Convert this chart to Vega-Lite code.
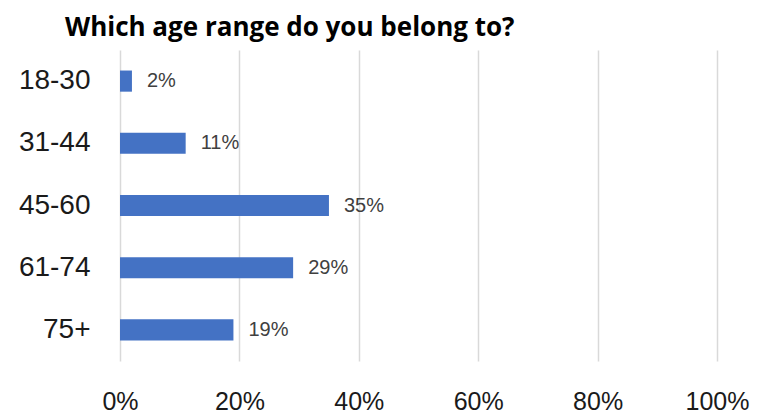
{
  "$schema": "https://vega.github.io/schema/vega-lite/v6.json",
  "width": 597,
  "height": 311,
  "autosize": {"type": "none"},
  "padding": {"left": 120, "top": 50, "right": 42, "bottom": 54},
  "background": "white",
  "title": {
    "text": "Which age range do you belong to?",
    "anchor": "start",
    "frame": "group",
    "dx": -55,
    "offset": 9,
    "font": "Open Sans",
    "fontSize": 26,
    "fontWeight": "bold",
    "color": "#000000"
  },
  "config": {"view": {"stroke": null}},
  "data": {
    "values": [
      {"age": "18-30", "share": 0.02},
      {"age": "31-44", "share": 0.11},
      {"age": "45-60", "share": 0.35},
      {"age": "61-74", "share": 0.29},
      {"age": "75+", "share": 0.19}
    ]
  },
  "encoding": {
    "y": {
      "field": "age",
      "type": "nominal",
      "sort": null,
      "scale": {"paddingInner": 0.66, "paddingOuter": 0.33},
      "axis": {
        "title": null,
        "domain": false,
        "ticks": false,
        "grid": false,
        "labelFont": "Liberation Sans",
        "labelFontSize": 28,
        "labelColor": "#1a1a1a",
        "labelPadding": 30
      }
    },
    "x": {
      "field": "share",
      "type": "quantitative",
      "scale": {"domain": [0, 1]},
      "axis": {
        "title": null,
        "format": ".0%",
        "values": [0, 0.2, 0.4, 0.6, 0.8, 1],
        "domain": false,
        "ticks": false,
        "grid": true,
        "gridColor": "#d9d9d9",
        "gridWidth": 1.5,
        "labelFont": "Liberation Sans",
        "labelFontSize": 25,
        "labelColor": "#1a1a1a",
        "labelPadding": 28,
        "labelFlush": false
      }
    }
  },
  "layer": [
    {"mark": {"type": "bar", "color": "#4472C4"}},
    {
      "mark": {"type": "text", "align": "left", "dx": 15, "font": "Liberation Sans", "fontSize": 20, "color": "#404040"},
      "encoding": {"text": {"field": "share", "type": "quantitative", "format": ".0%"}}
    }
  ]
}
